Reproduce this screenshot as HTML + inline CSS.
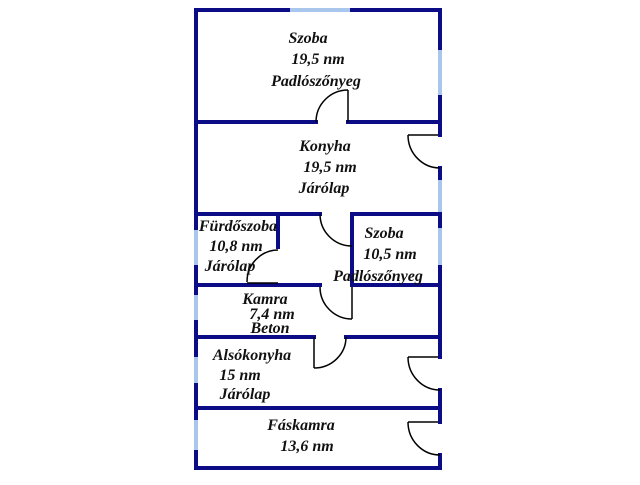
<!DOCTYPE html>
<html><head><meta charset="utf-8"><style>body{margin:0;background:#fff}</style></head><body>
<svg width="640" height="480" viewBox="0 0 640 480" xmlns="http://www.w3.org/2000/svg">
<rect width="640" height="480" fill="#fff"/>
<g stroke="#0c0c86" stroke-width="4" fill="none" stroke-linecap="square">
<line x1="196" y1="10" x2="440" y2="10"/>
<line x1="196" y1="10" x2="196" y2="468"/>
<line x1="196" y1="468" x2="440" y2="468"/>
<line x1="440" y1="10" x2="440" y2="135"/>
<line x1="440" y1="168" x2="440" y2="357"/>
<line x1="440" y1="390" x2="440" y2="422"/>
<line x1="440" y1="455" x2="440" y2="468"/>
<line x1="196" y1="122" x2="316" y2="122"/>
<line x1="348" y1="122" x2="440" y2="122"/>
<line x1="196" y1="214" x2="320" y2="214"/>
<line x1="352" y1="214" x2="440" y2="214"/>
<line x1="196" y1="285" x2="320" y2="285"/>
<line x1="352" y1="285" x2="440" y2="285"/>
<line x1="196" y1="337" x2="314" y2="337"/>
<line x1="346" y1="337" x2="440" y2="337"/>
<line x1="196" y1="408" x2="440" y2="408"/>
<line x1="278" y1="214" x2="278" y2="247"/>
<line x1="352" y1="214" x2="352" y2="285"/>
</g>
<g stroke="#a9c6ec" stroke-width="4">
<line x1="290" y1="10" x2="350" y2="10"/>
<line x1="440" y1="50" x2="440" y2="95"/>
<line x1="440" y1="180" x2="440" y2="212"/>
<line x1="440" y1="228" x2="440" y2="265"/>
<line x1="196" y1="230" x2="196" y2="265"/>
<line x1="196" y1="295" x2="196" y2="320"/>
<line x1="196" y1="357" x2="196" y2="383"/>
<line x1="196" y1="420" x2="196" y2="450"/>
</g>
<g stroke="#000" stroke-width="1.5" fill="none">
<line x1="348" y1="90" x2="348" y2="122"/>
<path d="M348 90 A32 32 0 0 0 316 122"/>
<path d="M408 135 A32 33 0 0 0 440 168"/>
<line x1="408" y1="135" x2="438" y2="135"/>
<path d="M320 214 A32 32 0 0 0 352 246"/>
<path d="M278 250 A31 32 0 0 0 247 282"/>
<line x1="247" y1="283" x2="278" y2="283"/>
<path d="M320 287 A32 32 0 0 0 352 319"/>
<line x1="352" y1="287" x2="352" y2="319"/>
<line x1="314" y1="337" x2="314" y2="368"/>
<path d="M346 337 A32 31 0 0 1 314 368"/>
<path d="M408 357 A32 33 0 0 0 440 390"/>
<line x1="408" y1="357" x2="438" y2="357"/>
<path d="M408 422 A32 33 0 0 0 440 455"/>
<line x1="408" y1="422" x2="438" y2="422"/>
</g>
<g font-family="Liberation Serif, serif" font-weight="bold" font-style="italic" font-size="16" fill="#111" text-anchor="middle">
<text x="308" y="43">Szoba</text>
<text x="318" y="64">19,5 nm</text>
<text x="316" y="86">Padlószőnyeg</text>
<text x="325" y="151">Konyha</text>
<text x="330" y="172">19,5 nm</text>
<text x="324" y="193">Járólap</text>
<text x="238" y="231">Fürdőszoba</text>
<text x="236" y="251">10,8 nm</text>
<text x="230" y="271">Járólap</text>
<text x="384" y="238">Szoba</text>
<text x="390" y="259">10,5 nm</text>
<text x="378" y="281">Padlószőnyeg</text>
<text x="265" y="304">Kamra</text>
<text x="272" y="319">7,4 nm</text>
<text x="270" y="333">Beton</text>
<text x="252" y="360">Alsókonyha</text>
<text x="240" y="380">15 nm</text>
<text x="245" y="399">Járólap</text>
<text x="301" y="430">Fáskamra</text>
<text x="307" y="451">13,6 nm</text>
</g>
</svg>
</body></html>
